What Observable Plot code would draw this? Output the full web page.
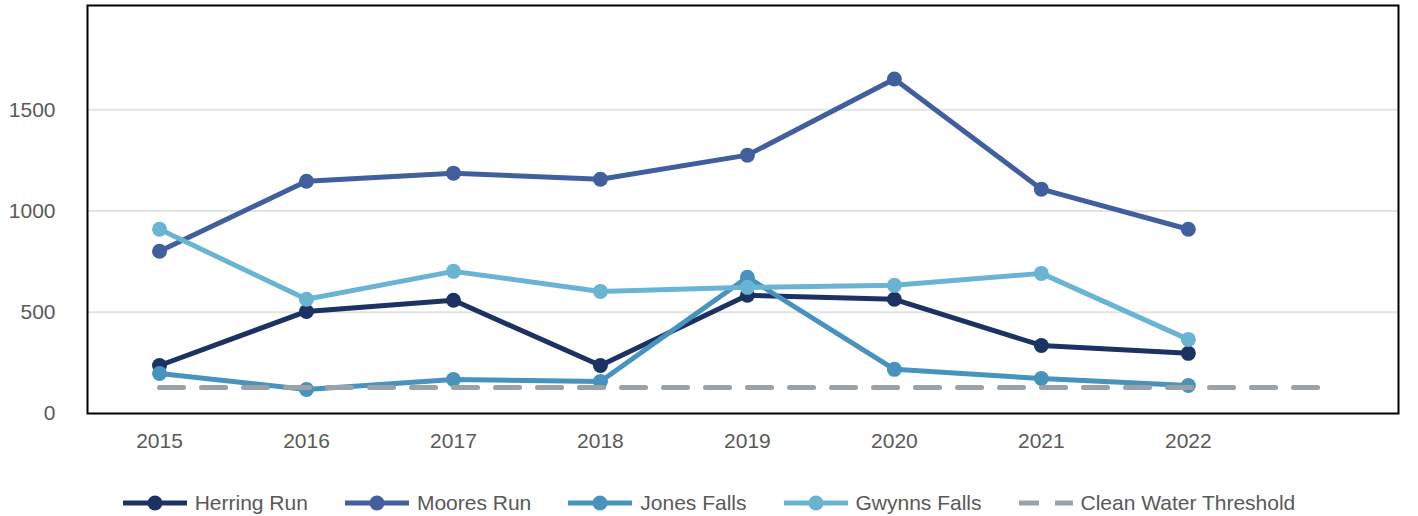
<!DOCTYPE html>
<html>
<head>
<meta charset="utf-8">
<script src="https://cdn.jsdelivr.net/npm/d3@7"></script>
<script src="https://cdn.jsdelivr.net/npm/@observablehq/plot@0.6"></script>
<style>
  html, body { margin: 0; padding: 0; background: #fff; }
  body { width: 1418px; height: 516px; overflow: hidden; font-family: "Liberation Sans", Arial, sans-serif; }
  #legend { display: flex; justify-content: center; align-items: center; height: 30px; margin-top: 28px; gap: 37px; font-size: 21px; color: #595959; }
  .item { display: flex; align-items: center; gap: 8px; }
</style>
</head>
<body>
<div id="chart"></div>
<div id="legend"></div>
<script>
const years = [2015, 2016, 2017, 2018, 2019, 2020, 2021, 2022];
const seriesNames = ["Herring Run", "Moores Run", "Jones Falls", "Gwynns Falls"];
const herringRun = [237, 504, 559, 237, 584, 564, 336, 297];
const mooresRun = [801, 1147, 1187, 1157, 1276, 1652, 1108, 910];
const jonesFalls = [198, 119, 168, 158, 673, 218, 173, 138];
const gwynnsFalls = [910, 564, 702, 603, 623, 633, 692, 366];
const thresholdName = "Clean Water Threshold";
const thresholdValue = 128;
const thresholdYears = [2015, 2023];
const yTicks = [0, 500, 1000, 1500];
const gridValues = [500, 1000, 1500];
const colors = ["#1b3263", "#405f9c", "#4893bd", "#6ab4d3"];
const thresholdColor = "#9aa1a8";

const seriesValues = [herringRun, mooresRun, jonesFalls, gwynnsFalls];
const data = seriesNames.flatMap((name, i) =>
  years.map((year, j) => ({ series: name, year, value: seriesValues[i][j] })));
const thresholdData = thresholdYears.map(year => ({ year, value: thresholdValue }));

const seriesMarks = seriesNames.flatMap(name => {
  const d = data.filter(r => r.series === name);
  return [
    Plot.line(d, { x: "year", y: "value", stroke: "series", strokeWidth: 5 }),
    Plot.dot(d, { x: "year", y: "value", fill: "series", r: 7.5 })
  ];
});

const chart = Plot.plot({
  width: 1418,
  height: 460,
  marginLeft: 87,
  marginRight: 20,
  marginTop: 5,
  marginBottom: 47,
  style: { fontFamily: "'Liberation Sans', Arial, sans-serif", fontSize: "21px", color: "#595959", background: "#fff" },
  x: { domain: [2014.51, 2023.43], ticks: years, tickFormat: d => String(d), tickSize: 0, tickPadding: 20, label: null },
  y: { domain: [0, 2015], ticks: yTicks, tickFormat: d => String(d), tickSize: 0, tickPadding: 32, label: null },
  color: { domain: seriesNames, range: colors },
  marks: [
    Plot.ruleY(gridValues, { stroke: "#e3e3e3", strokeWidth: 2 }),
    ...seriesMarks,
    Plot.line(thresholdData, { x: "year", y: "value", stroke: thresholdColor, strokeWidth: 5, strokeDasharray: "24 18" }),
    Plot.frame({ stroke: "#000", strokeWidth: 2 })
  ]
});
document.getElementById("chart").appendChild(chart);

const legend = document.getElementById("legend");
const ns = "http://www.w3.org/2000/svg";
seriesNames.forEach((name, i) => {
  const item = document.createElement("div");
  item.className = "item";
  const svg = document.createElementNS(ns, "svg");
  svg.setAttribute("width", 64); svg.setAttribute("height", 16);
  svg.innerHTML = `<line x1="0" y1="8" x2="64" y2="8" stroke="${colors[i]}" stroke-width="5"/><circle cx="32" cy="8" r="7.5" fill="${colors[i]}"/>`;
  item.appendChild(svg);
  const t = document.createElement("span"); t.textContent = name;
  item.appendChild(t);
  legend.appendChild(item);
});
{
  const item = document.createElement("div");
  item.className = "item";
  const svg = document.createElementNS(ns, "svg");
  svg.setAttribute("width", 54); svg.setAttribute("height", 16);
  svg.innerHTML = `<line x1="0" y1="8" x2="54" y2="8" stroke="${thresholdColor}" stroke-width="5" stroke-dasharray="20 16"/>`;
  item.appendChild(svg);
  const t = document.createElement("span"); t.textContent = thresholdName;
  item.appendChild(t);
  legend.appendChild(item);
}
</script>
</body>
</html>
